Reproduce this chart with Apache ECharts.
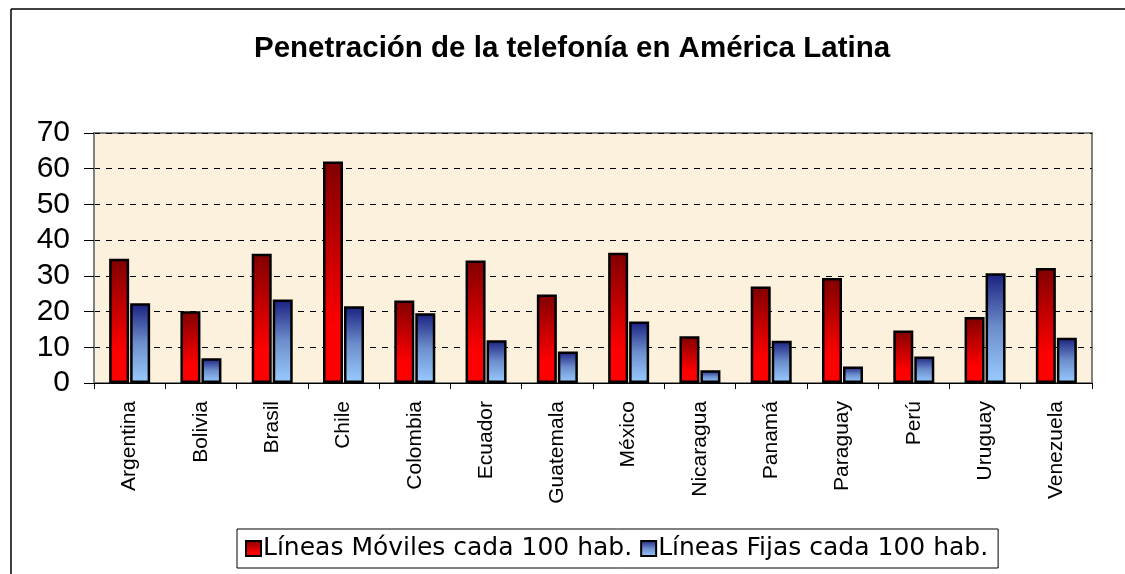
<!DOCTYPE html>
<html>
<head>
<meta charset="utf-8">
<script src="https://cdn.jsdelivr.net/npm/echarts@6/dist/echarts.min.js"></script>
<style>
  html, body { margin: 0; padding: 0; background: #fff; }
  #chart { width: 1125px; height: 574px; }
</style>
</head>
<body>
<div id="chart"></div>
<script>
const countries = ['Argentina', 'Bolivia', 'Brasil', 'Chile', 'Colombia', 'Ecuador', 'Guatemala',
  'México', 'Nicaragua', 'Panamá', 'Paraguay', 'Perú', 'Uruguay', 'Venezuela']
const moviles = [34.8, 20.1, 36.2, 62.0, 23.1, 34.3, 24.8, 36.5, 13.1, 27.0, 29.4, 14.7, 18.5, 32.2]
const fijas = [22.3, 6.9, 23.4, 21.5, 19.5, 12.0, 8.8, 17.2, 3.6, 11.8, 4.6, 7.4, 30.7, 12.7]
const yTicks = [0, 10, 20, 30, 40, 50, 60, 70]

const font = 'Arial, "Liberation Sans", sans-serif'
const chart = echarts.init(document.getElementById('chart'))

chart.setOption({
  animation: false,
  textStyle: { fontFamily: font, color: '#000' },
  title: {
    text: 'Penetración de la telefonía en América Latina',
    left: 249,
    top: 29,
    textStyle: { fontSize: 29.5, fontWeight: 'bold', color: '#000', fontFamily: font }
  },
  graphic: [
    { type: 'line', shape: { x1: 11, y1: 9, x2: 1125, y2: 9 }, style: { stroke: '#000', lineWidth: 1.5 } },
    { type: 'line', shape: { x1: 11, y1: 9, x2: 11, y2: 574 }, style: { stroke: '#000', lineWidth: 1.5 } }
  ],
  legend: {
    left: 237,
    top: 529,
    padding: [7, 10, 7, 8],
    borderColor: '#000',
    borderWidth: 1,
    itemWidth: 15,
    itemHeight: 15,
    itemGap: 8,
    icon: 'rect',
    textStyle: { fontSize: 25, color: '#000', fontFamily: '"DejaVu Sans", sans-serif', padding: [0, 0, 0, -3] },
    data: ['Líneas Móviles cada 100 hab.', 'Líneas Fijas cada 100 hab.']
  },
  grid: {
    left: 94,
    top: 133,
    right: 33,
    bottom: 191,
    show: true,
    backgroundColor: '#fcf1dc',
    borderColor: '#808080',
    borderWidth: 2
  },
  xAxis: {
    type: 'category',
    data: countries,
    axisLine: { lineStyle: { color: '#000', width: 1 } },
    axisTick: { show: true, length: 6, lineStyle: { color: '#000' } },
    axisLabel: { rotate: 90, fontSize: 21, margin: 18, color: '#000', fontFamily: font }
  },
  yAxis: {
    type: 'value',
    min: yTicks[0],
    max: yTicks[yTicks.length - 1],
    interval: 10,
    axisLine: { show: true, lineStyle: { color: '#808080', width: 2 } },
    axisTick: { show: true, length: 10, lineStyle: { color: '#000' } },
    axisLabel: { fontSize: 30, margin: 24, color: '#000', fontFamily: font },
    splitLine: { lineStyle: { color: '#000', type: [6, 6], width: 1 } }
  },
  series: [
    {
      name: 'Líneas Móviles cada 100 hab.',
      type: 'bar',
      data: moviles,
      barWidth: 20,
      barGap: '5%',
      itemStyle: {
        borderColor: '#000',
        borderWidth: 2.5,
        color: new echarts.graphic.LinearGradient(0, 0, 0, 1, [
          { offset: 0, color: '#800000' },
          { offset: 0.75, color: '#ff0000' },
          { offset: 1, color: '#ff0000' }
        ])
      }
    },
    {
      name: 'Líneas Fijas cada 100 hab.',
      type: 'bar',
      data: fijas,
      barWidth: 20,
      itemStyle: {
        borderColor: '#000',
        borderWidth: 2.5,
        color: new echarts.graphic.LinearGradient(0, 0, 0, 1, [
          { offset: 0, color: '#1a1f80' },
          { offset: 0.5, color: '#6d8fcc' },
          { offset: 1, color: '#99ccff' }
        ])
      }
    }
  ]
})
</script>
</body>
</html>
